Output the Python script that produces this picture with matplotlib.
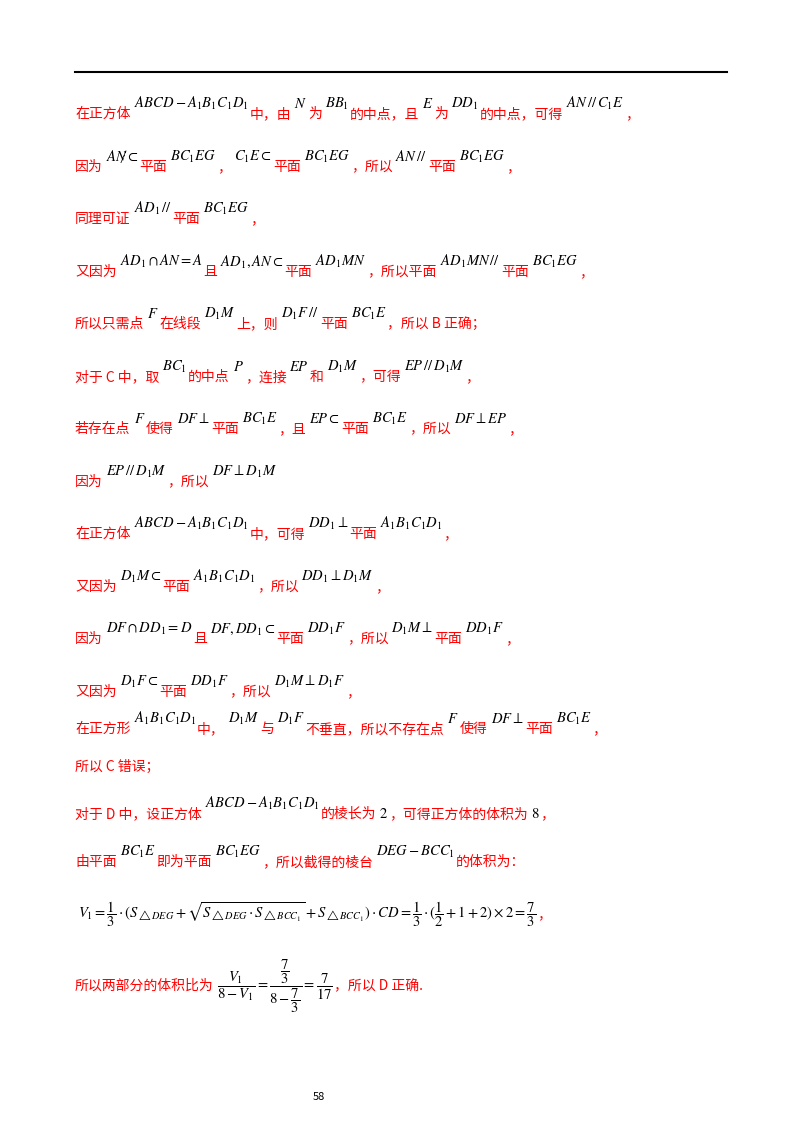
import matplotlib
matplotlib.use('Agg')
import matplotlib.pyplot as plt

plt.rcParams['font.family'] = ['Noto Sans CJK SC', 'DejaVu Sans']
plt.rcParams['mathtext.fontset'] = 'stix'

RED = '#ff0000'
W, H = 800, 1132

# each line: (baseline y in px, list of segments); 'c' = red Chinese text, 'm' = raised math, 'b' = math on baseline
LINES = [
    (118, [('c', '在正方体'), ('m', r'$ABCD-A_1B_1C_1D_1$'), ('c', '中，由'), ('m', r'$N$'), ('c', '为'),
           ('m', r'$BB_1$'), ('c', '的中点，且'), ('m', r'$E$'), ('c', '为'), ('m', r'$DD_1$'),
           ('c', '的中点，可得'), ('m', r'$AN\,//\,C_1E$'), ('c', '，')]),
    (171, [('c', '因为'), ('m', r'$AN\not\subset$'), ('c', '平面'), ('m', r'$BC_1EG$'), ('c', '，'),
           ('m', r'$C_1E\subset$'), ('c', '平面'), ('m', r'$BC_1EG$'), ('c', '，所以'), ('m', r'$AN\,//$'),
           ('c', '平面'), ('m', r'$BC_1EG$'), ('c', '，')]),
    (223, [('c', '同理可证'), ('m', r'$AD_1\,//$'), ('c', '平面'), ('m', r'$BC_1EG$'), ('c', '，')]),
    (276, [('c', '又因为'), ('m', r'$AD_1\cap AN=A$'), ('c', '且'), ('m', r'$AD_1,AN\subset$'), ('c', '平面'),
           ('m', r'$AD_1MN$'), ('c', '，所以平面'), ('m', r'$AD_1MN\,//$'), ('c', '平面'), ('m', r'$BC_1EG$'), ('c', '，')]),
    (328, [('c', '所以只需点'), ('m', r'$F$'), ('c', '在线段'), ('m', r'$D_1M$'), ('c', '上，则'),
           ('m', r'$D_1F\,//$'), ('c', '平面'), ('m', r'$BC_1E$'), ('c', '，所以 B 正确；')]),
    (381, [('c', '对于 C 中，取'), ('m', r'$BC_1$'), ('c', '的中点'), ('m', r'$P$'), ('c', '，连接'),
           ('m', r'$EP$'), ('c', '和'), ('m', r'$D_1M$'), ('c', '，可得'), ('m', r'$EP\,//\,D_1M$'), ('c', '，')]),
    (433, [('c', '若存在点'), ('m', r'$F$'), ('c', '使得'), ('m', r'$DF\perp$'), ('c', '平面'), ('m', r'$BC_1E$'),
           ('c', '，且'), ('m', r'$EP\subset$'), ('c', '平面'), ('m', r'$BC_1E$'), ('c', '，所以'),
           ('m', r'$DF\perp EP$'), ('c', '，')]),
    (486, [('c', '因为'), ('m', r'$EP\,//\,D_1M$'), ('c', '，所以'), ('m', r'$DF\perp D_1M$')]),
    (538, [('c', '在正方体'), ('m', r'$ABCD-A_1B_1C_1D_1$'), ('c', '中，可得'), ('m', r'$DD_1\perp$'),
           ('c', '平面'), ('m', r'$A_1B_1C_1D_1$'), ('c', '，')]),
    (591, [('c', '又因为'), ('m', r'$D_1M\subset$'), ('c', '平面'), ('m', r'$A_1B_1C_1D_1$'), ('c', '，所以'),
           ('m', r'$DD_1\perp D_1M$'), ('c', '，')]),
    (643, [('c', '因为'), ('m', r'$DF\cap DD_1=D$'), ('c', '且'), ('m', r'$DF,DD_1\subset$'), ('c', '平面'),
           ('m', r'$DD_1F$'), ('c', '，所以'), ('m', r'$D_1M\perp$'), ('c', '平面'), ('m', r'$DD_1F$'), ('c', '，')]),
    (696, [('c', '又因为'), ('m', r'$D_1F\subset$'), ('c', '平面'), ('m', r'$DD_1F$'), ('c', '，所以'),
           ('m', r'$D_1M\perp D_1F$'), ('c', '，')]),
    (733, [('c', '在正方形'), ('m', r'$A_1B_1C_1D_1$'), ('c', '中，'), ('m', r'$D_1M$'), ('c', '与'),
           ('m', r'$D_1F$'), ('c', '不垂直，所以不存在点'), ('m', r'$F$'), ('c', '使得'), ('m', r'$DF\perp$'),
           ('c', '平面'), ('m', r'$BC_1E$'), ('c', '，')]),
    (771, [('c', '所以 C 错误；')]),
    (818, [('c', '对于 D 中，设正方体'), ('m', r'$ABCD-A_1B_1C_1D_1$'), ('c', '的棱长为'), ('b', r'$2$'),
           ('c', '，可得正方体的体积为'), ('b', r'$8$'), ('c', '，')]),
    (866, [('c', '由平面'), ('m', r'$BC_1E$'), ('c', '即为平面'), ('m', r'$BC_1EG$'), ('c', '，所以截得的棱台'),
           ('m', r'$DEG-BCC_1$'), ('c', '的体积为：')]),
    (918, [('f', r'$V_1=\dfrac{1}{3}\cdot(S_{\triangle DEG}+\sqrt{S_{\triangle DEG}\cdot S_{\triangle BCC_1}}+S_{\triangle BCC_1})\cdot CD=\dfrac{1}{3}\cdot(\dfrac{1}{2}+1+2)\times 2=\dfrac{7}{3}$'),
           ('c', '，')]),
    (990, [('c', '所以两部分的体积比为'), ('f', r'$\dfrac{V_1}{8-V_1}=\dfrac{\dfrac{7}{3}}{8-\dfrac{7}{3}}=\dfrac{7}{17}$'),
           ('c', '，所以 D 正确.')]),
]
PAGE_NO = '58'

fig = plt.figure(figsize=(W / 100, H / 100), dpi=100)
fig.add_artist(plt.Line2D([75 / W, 727 / W], [1 - 72 / H, 1 - 72 / H], color='black', lw=1.5))
renderer = fig.canvas.get_renderer()

for y, segs in LINES:
    x = 75
    for kind, s in segs:
        if kind == 'c':
            t = fig.text(x / W, 1 - y / H, s, color=RED, fontsize=10, va='baseline')
            x += t.get_window_extent(renderer).width
        else:
            dy = 10 if kind == 'm' else 0
            fs = 10.5 if kind == 'f' else 10.5
            t = fig.text((x + 3) / W, 1 - (y - dy) / H, s, color='black', fontsize=fs, va='baseline')
            x += t.get_window_extent(renderer).width + 4

fig.text(313 / W, 1 - 1100 / H, PAGE_NO, fontsize=8, va='baseline')
fig.savefig('out.png', dpi=100)
